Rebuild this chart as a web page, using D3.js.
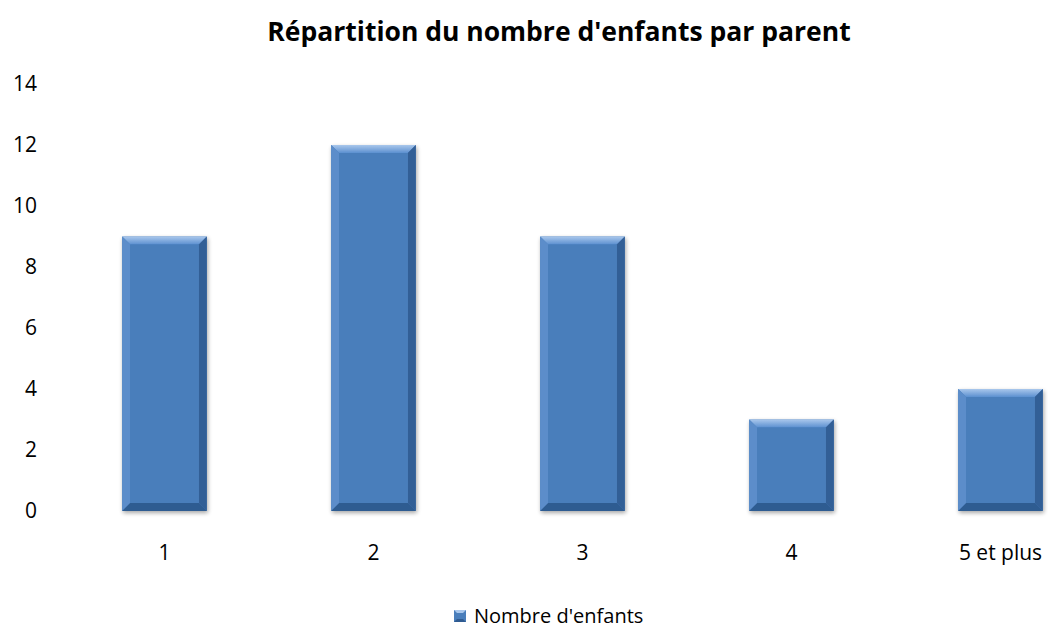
<!doctype html>
<html lang="fr">
<head>
<meta charset="utf-8">
<title>Répartition du nombre d'enfants par parent</title>
<script src="https://d3js.org/d3.v7.min.js"></script>
<style>
  body { margin: 0; background: #fff; }
  text { font-family: "Open Sans", "Noto Sans", sans-serif; fill: #000; }
</style>
</head>
<body>
<div id="chart"></div>
<script>
// Data -------------------------------------------------------------------
const categories = ["1", "2", "3", "4", "5 et plus"];
const values = [9, 12, 9, 3, 4];
const yTicks = [0, 2, 4, 6, 8, 10, 12, 14];
const seriesName = "Nombre d'enfants";
const title = "Répartition du nombre d'enfants par parent";

// Layout -----------------------------------------------------------------
const width = 1048;
const height = 629;

const svg = d3.select("#chart")
  .append("svg")
  .attr("width", width)
  .attr("height", height);

const x = d3.scaleBand()
  .domain(categories)
  .range([60, 1105])
  .paddingInner(0.595)
  .paddingOuter(0.2975);

const y = d3.scaleLinear()
  .domain([0, 14])
  .range([511, 84]);

// Title
svg.append("text")
  .attr("x", 559)
  .attr("y", 41)
  .attr("text-anchor", "middle")
  .style("font-size", "26.5px")
  .style("font-weight", "bold")
  .text(title);

// Y axis labels
svg.append("g")
  .selectAll("text")
  .data(yTicks)
  .join("text")
  .attr("x", 37)
  .attr("y", d => y(d))
  .attr("dy", "0.35em")
  .attr("text-anchor", "end")
  .style("font-size", "21px")
  .text(d => d);

// X axis labels
svg.append("g")
  .selectAll("text")
  .data(categories)
  .join("text")
  .attr("x", d => x(d) + x.bandwidth() / 2)
  .attr("y", 560)
  .attr("text-anchor", "middle")
  .style("font-size", "21px")
  .text(d => d);

// Bars with bevel ---------------------------------------------------------
const defs = svg.append("defs");
const shadow = defs.append("filter").attr("id", "shadow")
  .attr("x", "-20%").attr("y", "-20%").attr("width", "140%").attr("height", "140%");
shadow.append("feGaussianBlur").attr("in", "SourceAlpha").attr("stdDeviation", 2);
shadow.append("feOffset").attr("dx", 1).attr("dy", 2).attr("result", "blur");
shadow.append("feComponentTransfer").append("feFuncA").attr("type", "linear").attr("slope", 0.35);
const merge = shadow.append("feMerge");
merge.append("feMergeNode");
merge.append("feMergeNode").attr("in", "SourceGraphic");

const topGrad = defs.append("linearGradient").attr("id", "topBevel")
  .attr("x1", 0).attr("x2", 0).attr("y1", 0).attr("y2", 1);
topGrad.append("stop").attr("offset", "0%").attr("stop-color", "#a9c7ec");
topGrad.append("stop").attr("offset", "100%").attr("stop-color", "#5c90d0");

const bevel = 8;
const bars = svg.append("g")
  .selectAll("g")
  .data(values.map((v, i) => ({ cat: categories[i], value: v })))
  .join("g")
  .attr("filter", "url(#shadow)");

bars.each(function(d) {
  const g = d3.select(this);
  const x0 = x(d.cat);
  const x1 = x0 + x.bandwidth();
  const y0 = y(d.value);
  const y1 = y(0);
  const b = bevel;
  g.append("rect")
    .attr("x", x0).attr("y", y0)
    .attr("width", x1 - x0).attr("height", y1 - y0)
    .attr("fill", "#4a7ebb");
  // top
  g.append("polygon")
    .attr("points", [[x0, y0], [x1, y0], [x1 - b, y0 + b], [x0 + b, y0 + b]].join(" "))
    .attr("fill", "url(#topBevel)");
  // left
  g.append("polygon")
    .attr("points", [[x0, y0], [x0 + b, y0 + b], [x0 + b, y1 - b], [x0, y1]].join(" "))
    .attr("fill", "#5b8dca");
  // right
  g.append("polygon")
    .attr("points", [[x1, y0], [x1, y1], [x1 - b, y1 - b], [x1 - b, y0 + b]].join(" "))
    .attr("fill", "#335f96");
  // bottom
  g.append("polygon")
    .attr("points", [[x0, y1], [x1, y1], [x1 - b, y1 - b], [x0 + b, y1 - b]].join(" "))
    .attr("fill", "#2f5b91");
  // face
  g.append("rect")
    .attr("x", x0 + b).attr("y", y0 + b)
    .attr("width", x1 - x0 - 2 * b).attr("height", Math.max(0, y1 - y0 - 2 * b))
    .attr("fill", "#4a7ebb");
});

// Legend ------------------------------------------------------------------
const legend = svg.append("g").attr("transform", "translate(454, 610)");
legend.append("rect")
  .attr("x", 0).attr("y", 0).attr("width", 12).attr("height", 12)
  .attr("fill", "#4a7ebb");
legend.append("polygon")
  .attr("points", "0,0 12,0 9,3 3,3")
  .attr("fill", "#a9c7ec");
legend.append("polygon")
  .attr("points", "0,12 12,12 9,9 3,9")
  .attr("fill", "#2f5b91");
legend.append("text")
  .attr("x", 20)
  .attr("y", 6)
  .attr("dy", "0.35em")
  .style("font-size", "20px")
  .text(seriesName);
</script>
</body>
</html>
